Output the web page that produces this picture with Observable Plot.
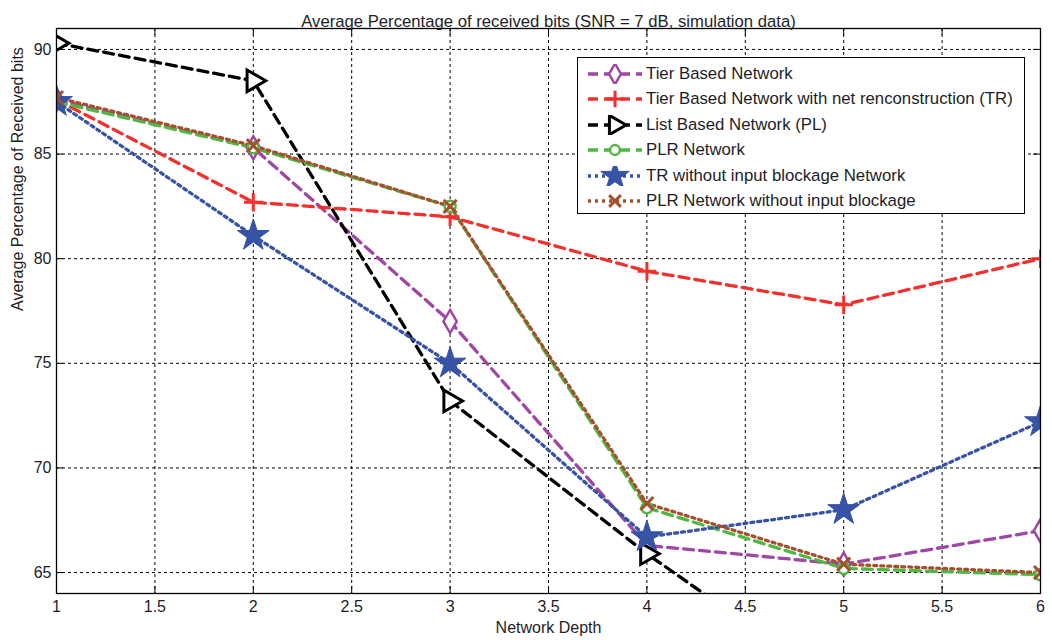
<!DOCTYPE html>
<html><head><meta charset="utf-8">
<script src="https://cdn.jsdelivr.net/npm/d3@7"></script>
<script src="https://cdn.jsdelivr.net/npm/@observablehq/plot@0.6"></script>
<style>
body{margin:0;background:#fff;font-family:"Liberation Sans",Arial,sans-serif}
#wrap{position:relative;width:1052px;height:642px}
#legend{position:absolute;left:577px;top:57px;width:448px;height:157px;border:1.3px solid #000;background:#fff;box-sizing:border-box;color:#1e1e28;font-size:16.8px}
.row{position:absolute;left:0;height:20px;display:flex;align-items:center;white-space:nowrap}
.row svg{margin-left:9px;margin-right:3px}
</style></head><body>
<div id="wrap"><div id="legend"></div></div>
<script>
const depths = [1, 2, 3, 4, 5, 6];
const seriesNames = [
  "Tier Based Network",
  "Tier Based Network with net renconstruction (TR)",
  "List Based Network (PL)",
  "PLR Network",
  "TR without input blockage Network",
  "PLR Network without input blockage"
];
const tierBased          = [87.6, 85.3, 77.0, 66.3, 65.4, 67.0];
const tierReconstruction = [87.6, 82.7, 82.0, 79.4, 77.8, 80.0];
const listBased          = [90.3, 88.5, 73.2, 65.9, 59.3, 57.0];
const plrNetwork         = [87.5, 85.3, 82.5, 68.1, 65.2, 64.9];
const trNoBlockage       = [87.5, 81.1, 75.0, 66.7, 68.0, 72.2];
const plrNoBlockage      = [87.7, 85.4, 82.5, 68.3, 65.4, 65.0];
const xTicks = [1, 1.5, 2, 2.5, 3, 3.5, 4, 4.5, 5, 5.5, 6];
const yTicks = [65, 70, 75, 80, 85, 90];
const titleText = "Average Percentage of received bits (SNR = 7 dB, simulation data)";
const xLabel = "Network Depth";
const yLabel = "Average Percentage of Received bits";

const allValues = [tierBased, tierReconstruction, listBased, plrNetwork, trNoBlockage, plrNoBlockage];
const styles = [
  {color: "#a046a3", dash: "10,6", symbol: "diamond", fill: "white", r: 7, rotate: 0, sw: 2.5},
  {color: "#f5302c", dash: "10,6", symbol: "plus", fill: "none", r: 6, rotate: 0, sw: 3},
  {color: "#000000", dash: "10,6", symbol: "triangle", fill: "white", r: 8, rotate: 90, sw: 3},
  {color: "#4fb843", dash: "10,6", symbol: "circle", fill: "white", r: 5.5, rotate: 0, sw: 2.5},
  {color: "#3753a6", dash: "3,4", symbol: "star", fill: "#3753a6", r: 10, rotate: 0, sw: 1},
  {color: "#a3512d", dash: "3,4", symbol: "times", fill: "none", r: 6, rotate: 0, sw: 3}
];

const data = [];
seriesNames.forEach((name, si) => depths.forEach((d, i) => data.push({series: name, si, depth: d, value: allValues[si][i]})));

const marks = [
  Plot.ruleX(xTicks.slice(1, -1), {stroke: "#000", strokeWidth: 1, strokeDasharray: "3,3"}),
  Plot.ruleY(yTicks, {stroke: "#000", strokeWidth: 1, strokeDasharray: "3,3"}),
  Plot.ruleX(xTicks, {y1: 64, y2: 64, insetTop: -7, stroke: "#000"}),
  Plot.ruleX(xTicks, {y1: 91, y2: 91, insetBottom: -7, stroke: "#000"}),
  Plot.ruleY(yTicks, {x1: 1, x2: 1, insetRight: -7, stroke: "#000"}),
  Plot.ruleY(yTicks, {x1: 6, x2: 6, insetLeft: -7, stroke: "#000"})
];
seriesNames.forEach((name, si) => {
  const st = styles[si];
  const rows = data.filter(d => d.si === si);
  marks.push(Plot.line(rows, {x: "depth", y: "value", stroke: st.color, strokeWidth: 3.3, strokeDasharray: st.dash, clip: true}));
});
seriesNames.forEach((name, si) => {
  const st = styles[si];
  const rows = data.filter(d => d.si === si);
  marks.push(Plot.dot(rows, {x: "depth", y: "value", symbol: () => st.symbol, r: st.r, stroke: st.color, fill: st.fill, strokeWidth: st.sw, rotate: st.rotate, clip: true}));
});
marks.push(
  Plot.frame({stroke: "#000", strokeWidth: 1.3}),
  Plot.axisX({ticks: xTicks, tickSize: 0, tickPadding: 7, fontSize: 16, tickFormat: d => String(d), label: null}),
  Plot.axisY({ticks: yTicks, tickSize: 0, tickPadding: 5, fontSize: 16, label: null}),
  Plot.text([titleText], {frameAnchor: "top", dy: -13, fontSize: 16.7, fill: "#1e1e28"}),
  Plot.text([xLabel], {frameAnchor: "bottom", dy: 39, fontSize: 16, fill: "#1e1e28"}),
  Plot.text([yLabel], {frameAnchor: "left", dx: -39, rotate: -90, fontSize: 16, fill: "#1e1e28"})
);

const chart = Plot.plot({
  width: 1052, height: 642,
  marginLeft: 56, marginRight: 12, marginTop: 28, marginBottom: 49,
  x: {domain: [1, 6]},
  y: {domain: [64, 91]},
  symbol: {type: "identity"},
  style: {fontFamily: "'Liberation Sans', Arial, sans-serif", fontSize: "16px", color: "#1e1e28", background: "white"},
  marks
});
document.getElementById("wrap").prepend(chart);

const legend = d3.select("#legend");
const symbolMap = {diamond: d3.symbolDiamond, plus: d3.symbolPlus, triangle: d3.symbolTriangle, circle: d3.symbolCircle, star: d3.symbolStar, times: d3.symbolTimes};
seriesNames.forEach((name, si) => {
  const st = styles[si];
  const row = legend.append("div").attr("class", "row").style("top", (6 + si * 25.4) + "px");
  const svg = row.append("svg").attr("width", 56).attr("height", 20);
  svg.append("line").attr("x1", 1).attr("x2", 55).attr("y1", 10).attr("y2", 10)
    .attr("stroke", st.color).attr("stroke-width", 3.3).attr("stroke-dasharray", st.dash);
  svg.append("path").attr("d", d3.symbol(symbolMap[st.symbol], Math.PI * st.r * st.r * 0.8)())
    .attr("transform", `translate(28,10) rotate(${st.rotate})`)
    .attr("fill", st.fill).attr("stroke", st.color).attr("stroke-width", st.sw);
  row.append("span").text(name);
});
</script>
</body></html>
